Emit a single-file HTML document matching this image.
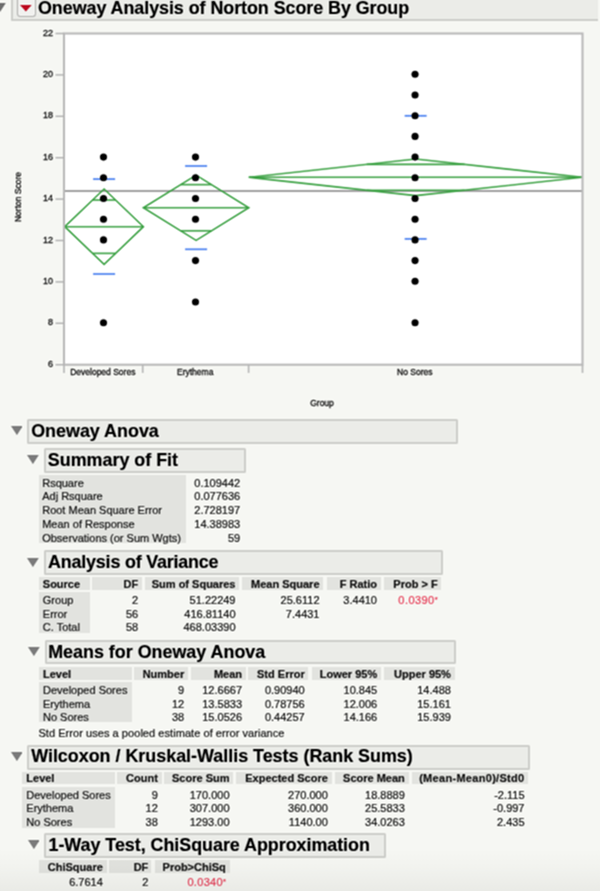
<!DOCTYPE html>
<html><head><meta charset="utf-8"><style>
html,body{margin:0;padding:0;background:#f6f7f3;}
body{width:600px;height:891px;overflow:hidden;position:relative;background:#f6f7f3;font-family:"Liberation Sans",sans-serif;}
.t{position:absolute;white-space:pre;line-height:20px;-webkit-text-stroke:0.2px currentColor;}
#w{position:absolute;left:0;top:0;width:600px;height:891px;overflow:hidden;filter:url(#bf);background:#f6f7f3;}
.b{position:absolute;}
svg text{stroke:#111;stroke-width:0.3px;}
.fade{position:absolute;left:0;top:848px;width:600px;height:43px;background:linear-gradient(to bottom, rgba(60,60,50,0), rgba(60,60,50,0.02) 40%, rgba(60,60,50,0.065));}
</style></head><body><svg width="0" height="0" style="position:absolute"><filter id="bf" x="0" y="0" width="100%" height="100%" color-interpolation-filters="sRGB"><feConvolveMatrix order="5" kernelMatrix="1 -5 -12 -5 1 -5 25 60 25 -5 -12 60 144 60 -12 -5 25 60 25 -5 1 -5 -12 -5 1" edgeMode="duplicate" preserveAlpha="true"/></filter></svg><div id="w">
<svg class="b" style="left:0;top:3px" width="6" height="10"><polygon points="-6,0 5.8,0 -0.1,9.1" fill="#6f6f6f"/></svg>
<div class="b" style="left:11.2px;top:0;width:587.3px;height:20.7px;background:#ebece8;border:2px solid #cdcecA;border-top:none;border-right:none;box-sizing:border-box;border-radius:0 0 0 1.5px;"></div>
<div class="b" style="left:16.5px;top:0;width:19.5px;height:16.5px;background:#f1f1ef;border:1.5px solid #aeaeac;border-top:none;box-sizing:border-box;border-radius:0 0 3.5px 3.5px;"></div>
<svg class="b" style="left:19.6px;top:5px" width="12" height="7"><polygon points="0,0 11.7,0 5.85,6.4" fill="#bd0a20"/></svg>
<div class="t" style="left:37.80px;top:0.6px;line-height:14px;will-change:transform;font-size:17.9px;font-weight:bold;color:#000;letter-spacing:-0.05px;">Oneway Analysis of Norton Score By Group</div>
<svg class="b" style="left:0;top:0" width="600" height="420" font-family="Liberation Sans"><rect x="64" y="33.5" width="518.5" height="331.20000000000005" fill="#fff"/><line x1="64" y1="191.1" x2="582.5" y2="191.1" stroke="#a2a2a2" stroke-width="2"/><polygon points="64.80,226.70 104.10,189.00 143.40,226.70 104.10,264.41" fill="none" stroke="#3da245" stroke-width="1.6" stroke-linejoin="miter"/><line x1="64.80" y1="226.70" x2="143.40" y2="226.70" stroke="#3da245" stroke-width="1.6"/><line x1="92.59" y1="200.04" x2="115.61" y2="200.04" stroke="#3da245" stroke-width="1.6"/><line x1="92.59" y1="253.36" x2="115.61" y2="253.36" stroke="#3da245" stroke-width="1.6"/><line x1="93.10" y1="179.1" x2="115.10" y2="179.1" stroke="#4c82f0" stroke-width="1.7"/><line x1="93.10" y1="274.0" x2="115.10" y2="274.0" stroke="#4c82f0" stroke-width="1.7"/><polygon points="143.40,207.73 196.10,175.07 248.80,207.73 196.10,240.38" fill="none" stroke="#3da245" stroke-width="1.6" stroke-linejoin="miter"/><line x1="143.40" y1="207.73" x2="248.80" y2="207.73" stroke="#3da245" stroke-width="1.6"/><line x1="180.66" y1="184.63" x2="211.54" y2="184.63" stroke="#3da245" stroke-width="1.6"/><line x1="180.66" y1="230.81" x2="211.54" y2="230.81" stroke="#3da245" stroke-width="1.6"/><line x1="185.10" y1="166.0" x2="207.10" y2="166.0" stroke="#4c82f0" stroke-width="1.7"/><line x1="185.10" y1="249.3" x2="207.10" y2="249.3" stroke="#4c82f0" stroke-width="1.7"/><polygon points="248.80,177.31 415.65,158.96 582.50,177.31 415.65,195.66" fill="none" stroke="#3da245" stroke-width="1.6" stroke-linejoin="miter"/><line x1="248.80" y1="177.31" x2="582.50" y2="177.31" stroke="#3da245" stroke-width="1.6"/><line x1="366.78" y1="164.34" x2="464.52" y2="164.34" stroke="#3da245" stroke-width="1.6"/><line x1="366.78" y1="190.29" x2="464.52" y2="190.29" stroke="#3da245" stroke-width="1.6"/><line x1="404.65" y1="115.8" x2="426.65" y2="115.8" stroke="#4c82f0" stroke-width="1.7"/><line x1="404.65" y1="238.9" x2="426.65" y2="238.9" stroke="#4c82f0" stroke-width="1.7"/><circle cx="103.50" cy="157.10" r="3.55" fill="#000"/><circle cx="103.50" cy="177.80" r="3.55" fill="#000"/><circle cx="103.50" cy="198.50" r="3.55" fill="#000"/><circle cx="103.50" cy="219.20" r="3.55" fill="#000"/><circle cx="103.50" cy="239.90" r="3.55" fill="#000"/><circle cx="103.50" cy="322.70" r="3.55" fill="#000"/><circle cx="195.50" cy="157.10" r="3.55" fill="#000"/><circle cx="195.50" cy="177.80" r="3.55" fill="#000"/><circle cx="195.50" cy="198.50" r="3.55" fill="#000"/><circle cx="195.50" cy="219.20" r="3.55" fill="#000"/><circle cx="195.50" cy="260.60" r="3.55" fill="#000"/><circle cx="195.50" cy="302.00" r="3.55" fill="#000"/><circle cx="415.05" cy="74.30" r="3.55" fill="#000"/><circle cx="415.05" cy="95.00" r="3.55" fill="#000"/><circle cx="415.05" cy="115.70" r="3.55" fill="#000"/><circle cx="415.05" cy="136.40" r="3.55" fill="#000"/><circle cx="415.05" cy="157.10" r="3.55" fill="#000"/><circle cx="415.05" cy="177.80" r="3.55" fill="#000"/><circle cx="415.05" cy="198.50" r="3.55" fill="#000"/><circle cx="415.05" cy="219.20" r="3.55" fill="#000"/><circle cx="415.05" cy="239.90" r="3.55" fill="#000"/><circle cx="415.05" cy="260.60" r="3.55" fill="#000"/><circle cx="415.05" cy="281.30" r="3.55" fill="#000"/><circle cx="415.05" cy="322.70" r="3.55" fill="#000"/><rect x="64" y="33.5" width="518.5" height="331.20000000000005" fill="none" stroke="#bababa" stroke-width="2.1"/><line x1="55.5" y1="364.70" x2="64" y2="364.70" stroke="#b0b0b0" stroke-width="1.4"/><text x="52.9" y="366.80" text-anchor="end" font-size="9" fill="#111">6</text><line x1="55.5" y1="323.30" x2="64" y2="323.30" stroke="#b0b0b0" stroke-width="1.4"/><text x="52.9" y="325.40" text-anchor="end" font-size="9" fill="#111">8</text><line x1="55.5" y1="281.90" x2="64" y2="281.90" stroke="#b0b0b0" stroke-width="1.4"/><text x="52.9" y="284.00" text-anchor="end" font-size="9" fill="#111">10</text><line x1="55.5" y1="240.50" x2="64" y2="240.50" stroke="#b0b0b0" stroke-width="1.4"/><text x="52.9" y="242.60" text-anchor="end" font-size="9" fill="#111">12</text><line x1="55.5" y1="199.10" x2="64" y2="199.10" stroke="#b0b0b0" stroke-width="1.4"/><text x="52.9" y="201.20" text-anchor="end" font-size="9" fill="#111">14</text><line x1="55.5" y1="157.70" x2="64" y2="157.70" stroke="#b0b0b0" stroke-width="1.4"/><text x="52.9" y="159.80" text-anchor="end" font-size="9" fill="#111">16</text><line x1="55.5" y1="116.30" x2="64" y2="116.30" stroke="#b0b0b0" stroke-width="1.4"/><text x="52.9" y="118.40" text-anchor="end" font-size="9" fill="#111">18</text><line x1="55.5" y1="74.90" x2="64" y2="74.90" stroke="#b0b0b0" stroke-width="1.4"/><text x="52.9" y="77.00" text-anchor="end" font-size="9" fill="#111">20</text><line x1="55.5" y1="33.50" x2="64" y2="33.50" stroke="#b0b0b0" stroke-width="1.4"/><text x="52.9" y="35.60" text-anchor="end" font-size="9" fill="#111">22</text><line x1="64" y1="364.70000000000005" x2="64" y2="372.9" stroke="#b6b6b6" stroke-width="1.6"/><line x1="142.7" y1="364.70000000000005" x2="142.7" y2="372.9" stroke="#b6b6b6" stroke-width="1.6"/><line x1="248.6" y1="364.70000000000005" x2="248.6" y2="372.9" stroke="#b6b6b6" stroke-width="1.6"/><line x1="582.5" y1="364.70000000000005" x2="582.5" y2="372.9" stroke="#b6b6b6" stroke-width="1.6"/><text x="102.80" y="374.9" text-anchor="middle" font-size="8.5" fill="#111">Developed Sores</text><text x="195.20" y="374.9" text-anchor="middle" font-size="8.5" fill="#111">Erythema</text><text x="414.75" y="374.9" text-anchor="middle" font-size="8.5" fill="#111">No Sores</text><text x="322" y="406.2" text-anchor="middle" font-size="8.5" fill="#111">Group</text><text transform="translate(21.3,197) rotate(-90)" text-anchor="middle" font-size="8.5" fill="#111">Norton Score</text></svg>
<svg class="b" style="left:10.599999999999998px;top:426.4px" width="11.8" height="9.100000000000023"><polygon points="0,0 11.8,0 5.9,9.100000000000023" fill="#7b7b7b"/></svg>
<div class="b" style="left:27.20px;top:419.00px;width:430.60px;height:25.30px;background:#ebece8;border:2px solid #cdcecA;box-sizing:border-box;border-radius:1.5px;"></div>
<div class="t" style="left:31.20px;top:421.20px;font-size:17.9px;font-weight:bold;color:#000;letter-spacing:0px;">Oneway Anova</div>
<svg class="b" style="left:27.4px;top:455.4px" width="11.800000000000004" height="9.100000000000023"><polygon points="0,0 11.800000000000004,0 5.900000000000002,9.100000000000023" fill="#7b7b7b"/></svg>
<div class="b" style="left:44.00px;top:448.00px;width:201.50px;height:25.00px;background:#ebece8;border:2px solid #cdcecA;box-sizing:border-box;border-radius:1.5px;"></div>
<div class="t" style="left:47.80px;top:450.20px;font-size:17.9px;font-weight:bold;color:#000;letter-spacing:0px;">Summary of Fit</div>
<div class="b" style="left:38.50px;top:474.50px;width:147.50px;height:68.70px;background:#e2e3df;"></div>
<div class="t" style="left:42.20px;top:472.50px;font-size:11px;font-weight:normal;color:#111;">Rsquare</div>
<div class="t" style="right:359.80px;top:472.50px;font-size:11px;font-weight:normal;color:#111;text-align:right;">0.109442</div>
<div class="t" style="left:42.20px;top:486.25px;font-size:11px;font-weight:normal;color:#111;">Adj Rsquare</div>
<div class="t" style="right:359.80px;top:486.25px;font-size:11px;font-weight:normal;color:#111;text-align:right;">0.077636</div>
<div class="t" style="left:42.20px;top:500.00px;font-size:11px;font-weight:normal;color:#111;">Root Mean Square Error</div>
<div class="t" style="right:359.80px;top:500.00px;font-size:11px;font-weight:normal;color:#111;text-align:right;">2.728197</div>
<div class="t" style="left:42.20px;top:513.75px;font-size:11px;font-weight:normal;color:#111;">Mean of Response</div>
<div class="t" style="right:359.80px;top:513.75px;font-size:11px;font-weight:normal;color:#111;text-align:right;">14.38983</div>
<div class="t" style="left:42.20px;top:527.50px;font-size:11px;font-weight:normal;color:#111;">Observations (or Sum Wgts)</div>
<div class="t" style="right:359.80px;top:527.50px;font-size:11px;font-weight:normal;color:#111;text-align:right;">59</div>
<svg class="b" style="left:27.299999999999997px;top:557.6px" width="11.800000000000004" height="9.100000000000023"><polygon points="0,0 11.800000000000004,0 5.900000000000002,9.100000000000023" fill="#7b7b7b"/></svg>
<div class="b" style="left:43.90px;top:550.20px;width:398.90px;height:24.60px;background:#ebece8;border:2px solid #cdcecA;box-sizing:border-box;border-radius:1.5px;"></div>
<div class="t" style="left:48.10px;top:552.00px;font-size:17.9px;font-weight:bold;color:#000;letter-spacing:-0.19px;">Analysis of Variance</div>
<div class="b" style="left:38.50px;top:577.00px;width:51.00px;height:13.00px;background:#e2e3df;"></div>
<div class="t" style="left:42.80px;top:573.60px;font-size:11px;font-weight:bold;color:#111;">Source</div>
<div class="b" style="left:91.50px;top:577.00px;width:50.50px;height:13.00px;background:#e2e3df;"></div>
<div class="t" style="right:461.80px;top:573.60px;font-size:11px;font-weight:bold;color:#111;text-align:right;">DF</div>
<div class="b" style="left:144.50px;top:577.00px;width:94.80px;height:13.00px;background:#e2e3df;"></div>
<div class="t" style="right:364.50px;top:573.60px;font-size:11px;font-weight:bold;color:#111;text-align:right;">Sum of Squares</div>
<div class="b" style="left:241.80px;top:577.00px;width:81.50px;height:13.00px;background:#e2e3df;"></div>
<div class="t" style="right:280.50px;top:573.60px;font-size:11px;font-weight:bold;color:#111;text-align:right;">Mean Square</div>
<div class="b" style="left:326.50px;top:577.00px;width:54.30px;height:13.00px;background:#e2e3df;"></div>
<div class="t" style="right:223.00px;top:573.60px;font-size:11px;font-weight:bold;color:#111;text-align:right;">F Ratio</div>
<div class="b" style="left:383.50px;top:577.00px;width:57.90px;height:13.00px;background:#e2e3df;"></div>
<div class="t" style="right:162.40px;top:573.60px;font-size:11px;font-weight:bold;color:#111;text-align:right;">Prob &gt; F</div>
<div class="b" style="left:38.50px;top:592.00px;width:51.00px;height:40.50px;background:#e2e3df;"></div>
<div class="t" style="left:42.80px;top:590.20px;font-size:11px;font-weight:normal;color:#111;">Group</div>
<div class="t" style="right:461.80px;top:590.20px;font-size:11px;font-weight:normal;color:#111;text-align:right;">2</div>
<div class="t" style="right:364.50px;top:590.20px;font-size:11px;font-weight:normal;color:#111;text-align:right;">51.22249</div>
<div class="t" style="right:280.50px;top:590.20px;font-size:11px;font-weight:normal;color:#111;text-align:right;">25.6112</div>
<div class="t" style="right:223.00px;top:590.20px;font-size:11px;font-weight:normal;color:#111;text-align:right;">3.4410</div>
<div class="t" style="right:162.40px;top:590.20px;font-size:11px;font-weight:normal;color:#e63a55;text-align:right;"><span style="letter-spacing:0.45px">0.0390</span><span style="font-size:7.5px;position:relative;top:-2.2px">*</span></div>
<div class="t" style="left:42.80px;top:603.70px;font-size:11px;font-weight:normal;color:#111;">Error</div>
<div class="t" style="right:461.80px;top:603.70px;font-size:11px;font-weight:normal;color:#111;text-align:right;">56</div>
<div class="t" style="right:364.50px;top:603.70px;font-size:11px;font-weight:normal;color:#111;text-align:right;">416.81140</div>
<div class="t" style="right:280.50px;top:603.70px;font-size:11px;font-weight:normal;color:#111;text-align:right;">7.4431</div>
<div class="t" style="left:42.80px;top:617.20px;font-size:11px;font-weight:normal;color:#111;">C. Total</div>
<div class="t" style="right:461.80px;top:617.20px;font-size:11px;font-weight:normal;color:#111;text-align:right;">58</div>
<div class="t" style="right:364.50px;top:617.20px;font-size:11px;font-weight:normal;color:#111;text-align:right;">468.03390</div>
<svg class="b" style="left:27.9px;top:647.4px" width="11.800000000000004" height="9.100000000000023"><polygon points="0,0 11.800000000000004,0 5.900000000000002,9.100000000000023" fill="#7b7b7b"/></svg>
<div class="b" style="left:44.50px;top:640.00px;width:411.50px;height:24.00px;background:#ebece8;border:2px solid #cdcecA;box-sizing:border-box;border-radius:1.5px;"></div>
<div class="t" style="left:48.20px;top:641.60px;font-size:17.9px;font-weight:bold;color:#000;letter-spacing:0px;">Means for Oneway Anova</div>
<div class="b" style="left:38.70px;top:667.00px;width:93.30px;height:12.60px;background:#e2e3df;"></div>
<div class="t" style="left:43.00px;top:663.80px;font-size:11px;font-weight:bold;color:#111;">Level</div>
<div class="b" style="left:134.00px;top:667.00px;width:54.00px;height:12.60px;background:#e2e3df;"></div>
<div class="t" style="right:415.80px;top:663.80px;font-size:11px;font-weight:bold;color:#111;text-align:right;">Number</div>
<div class="b" style="left:191.00px;top:667.00px;width:54.80px;height:12.60px;background:#e2e3df;"></div>
<div class="t" style="right:358.00px;top:663.80px;font-size:11px;font-weight:bold;color:#111;text-align:right;">Mean</div>
<div class="b" style="left:248.40px;top:667.00px;width:60.10px;height:12.60px;background:#e2e3df;"></div>
<div class="t" style="right:295.30px;top:663.80px;font-size:11px;font-weight:bold;color:#111;text-align:right;">Std Error</div>
<div class="b" style="left:312.00px;top:667.00px;width:69.00px;height:12.60px;background:#e2e3df;"></div>
<div class="t" style="right:222.80px;top:663.80px;font-size:11px;font-weight:bold;color:#111;text-align:right;">Lower 95%</div>
<div class="b" style="left:383.70px;top:667.00px;width:71.00px;height:12.60px;background:#e2e3df;"></div>
<div class="t" style="right:149.10px;top:663.80px;font-size:11px;font-weight:bold;color:#111;text-align:right;">Upper 95%</div>
<div class="b" style="left:38.70px;top:682.00px;width:93.30px;height:40.30px;background:#e2e3df;"></div>
<div class="t" style="left:43.00px;top:680.20px;font-size:11px;font-weight:normal;color:#111;">Developed Sores</div>
<div class="t" style="right:415.80px;top:680.20px;font-size:11px;font-weight:normal;color:#111;text-align:right;">9</div>
<div class="t" style="right:358.00px;top:680.20px;font-size:11px;font-weight:normal;color:#111;text-align:right;">12.6667</div>
<div class="t" style="right:295.30px;top:680.20px;font-size:11px;font-weight:normal;color:#111;text-align:right;">0.90940</div>
<div class="t" style="right:222.80px;top:680.20px;font-size:11px;font-weight:normal;color:#111;text-align:right;">10.845</div>
<div class="t" style="right:149.10px;top:680.20px;font-size:11px;font-weight:normal;color:#111;text-align:right;">14.488</div>
<div class="t" style="left:43.00px;top:693.70px;font-size:11px;font-weight:normal;color:#111;">Erythema</div>
<div class="t" style="right:415.80px;top:693.70px;font-size:11px;font-weight:normal;color:#111;text-align:right;">12</div>
<div class="t" style="right:358.00px;top:693.70px;font-size:11px;font-weight:normal;color:#111;text-align:right;">13.5833</div>
<div class="t" style="right:295.30px;top:693.70px;font-size:11px;font-weight:normal;color:#111;text-align:right;">0.78756</div>
<div class="t" style="right:222.80px;top:693.70px;font-size:11px;font-weight:normal;color:#111;text-align:right;">12.006</div>
<div class="t" style="right:149.10px;top:693.70px;font-size:11px;font-weight:normal;color:#111;text-align:right;">15.161</div>
<div class="t" style="left:43.00px;top:707.20px;font-size:11px;font-weight:normal;color:#111;">No Sores</div>
<div class="t" style="right:415.80px;top:707.20px;font-size:11px;font-weight:normal;color:#111;text-align:right;">38</div>
<div class="t" style="right:358.00px;top:707.20px;font-size:11px;font-weight:normal;color:#111;text-align:right;">15.0526</div>
<div class="t" style="right:295.30px;top:707.20px;font-size:11px;font-weight:normal;color:#111;text-align:right;">0.44257</div>
<div class="t" style="right:222.80px;top:707.20px;font-size:11px;font-weight:normal;color:#111;text-align:right;">14.166</div>
<div class="t" style="right:149.10px;top:707.20px;font-size:11px;font-weight:normal;color:#111;text-align:right;">15.939</div>
<div class="t" style="left:38.40px;top:722.50px;font-size:11px;font-weight:normal;color:#111;letter-spacing:0.055px;">Std Error uses a pooled estimate of error variance</div>
<svg class="b" style="left:10.5px;top:752.1px" width="11.8" height="9.100000000000023"><polygon points="0,0 11.8,0 5.9,9.100000000000023" fill="#7b7b7b"/></svg>
<div class="b" style="left:27.10px;top:744.70px;width:502.90px;height:25.10px;background:#ebece8;border:2px solid #cdcecA;box-sizing:border-box;border-radius:1.5px;"></div>
<div class="t" style="left:31.20px;top:746.20px;font-size:17.9px;font-weight:bold;color:#000;letter-spacing:0px;">Wilcoxon / Kruskal-Wallis Tests (Rank Sums)</div>
<div class="b" style="left:22.00px;top:771.80px;width:92.60px;height:12.20px;background:#e2e3df;"></div>
<div class="t" style="left:26.30px;top:768.00px;font-size:11px;font-weight:bold;color:#111;">Level</div>
<div class="b" style="left:116.80px;top:771.80px;width:44.80px;height:12.20px;background:#e2e3df;"></div>
<div class="t" style="right:442.20px;top:768.00px;font-size:11px;font-weight:bold;color:#111;text-align:right;">Count</div>
<div class="b" style="left:164.30px;top:771.80px;width:69.00px;height:12.20px;background:#e2e3df;"></div>
<div class="t" style="right:370.50px;top:768.00px;font-size:11px;font-weight:bold;color:#111;text-align:right;">Score Sum</div>
<div class="b" style="left:236.00px;top:771.80px;width:95.60px;height:12.20px;background:#e2e3df;"></div>
<div class="t" style="right:272.20px;top:768.00px;font-size:11px;font-weight:bold;color:#111;text-align:right;">Expected Score</div>
<div class="b" style="left:335.00px;top:771.80px;width:73.60px;height:12.20px;background:#e2e3df;"></div>
<div class="t" style="right:195.20px;top:768.00px;font-size:11px;font-weight:bold;color:#111;text-align:right;">Score Mean</div>
<div class="b" style="left:411.50px;top:771.80px;width:116.80px;height:12.20px;background:#e2e3df;"></div>
<div class="t" style="right:75.50px;top:768.00px;font-size:11px;font-weight:bold;color:#111;text-align:right;letter-spacing:0.3px;">(Mean-Mean0)/Std0</div>
<div class="b" style="left:22.00px;top:786.50px;width:92.60px;height:41.10px;background:#e2e3df;"></div>
<div class="t" style="left:26.30px;top:784.70px;font-size:11px;font-weight:normal;color:#111;">Developed Sores</div>
<div class="t" style="right:442.20px;top:784.70px;font-size:11px;font-weight:normal;color:#111;text-align:right;">9</div>
<div class="t" style="right:370.50px;top:784.70px;font-size:11px;font-weight:normal;color:#111;text-align:right;">170.000</div>
<div class="t" style="right:272.20px;top:784.70px;font-size:11px;font-weight:normal;color:#111;text-align:right;">270.000</div>
<div class="t" style="right:195.20px;top:784.70px;font-size:11px;font-weight:normal;color:#111;text-align:right;">18.8889</div>
<div class="t" style="right:75.50px;top:784.70px;font-size:11px;font-weight:normal;color:#111;text-align:right;">-2.115</div>
<div class="t" style="left:26.30px;top:798.30px;font-size:11px;font-weight:normal;color:#111;">Erythema</div>
<div class="t" style="right:442.20px;top:798.30px;font-size:11px;font-weight:normal;color:#111;text-align:right;">12</div>
<div class="t" style="right:370.50px;top:798.30px;font-size:11px;font-weight:normal;color:#111;text-align:right;">307.000</div>
<div class="t" style="right:272.20px;top:798.30px;font-size:11px;font-weight:normal;color:#111;text-align:right;">360.000</div>
<div class="t" style="right:195.20px;top:798.30px;font-size:11px;font-weight:normal;color:#111;text-align:right;">25.5833</div>
<div class="t" style="right:75.50px;top:798.30px;font-size:11px;font-weight:normal;color:#111;text-align:right;">-0.997</div>
<div class="t" style="left:26.30px;top:811.90px;font-size:11px;font-weight:normal;color:#111;">No Sores</div>
<div class="t" style="right:442.20px;top:811.90px;font-size:11px;font-weight:normal;color:#111;text-align:right;">38</div>
<div class="t" style="right:370.50px;top:811.90px;font-size:11px;font-weight:normal;color:#111;text-align:right;">1293.00</div>
<div class="t" style="right:272.20px;top:811.90px;font-size:11px;font-weight:normal;color:#111;text-align:right;">1140.00</div>
<div class="t" style="right:195.20px;top:811.90px;font-size:11px;font-weight:normal;color:#111;text-align:right;">34.0263</div>
<div class="t" style="right:75.50px;top:811.90px;font-size:11px;font-weight:normal;color:#111;text-align:right;">2.435</div>
<svg class="b" style="left:27.6px;top:840.3px" width="11.800000000000004" height="9.100000000000023"><polygon points="0,0 11.800000000000004,0 5.900000000000002,9.100000000000023" fill="#7b7b7b"/></svg>
<div class="b" style="left:44.20px;top:832.90px;width:342.10px;height:24.90px;background:#ebece8;border:2px solid #cdcecA;box-sizing:border-box;border-radius:1.5px;"></div>
<div class="t" style="left:48.50px;top:835.20px;font-size:17.9px;font-weight:bold;color:#000;letter-spacing:-0.03px;">1-Way Test, ChiSquare Approximation</div>
<div class="b" style="left:38.70px;top:860.40px;width:67.90px;height:12.40px;background:#e2e3df;"></div>
<div class="t" style="right:497.20px;top:856.70px;font-size:11px;font-weight:bold;color:#111;text-align:right;">ChiSquare</div>
<div class="b" style="left:109.30px;top:860.40px;width:41.60px;height:12.40px;background:#e2e3df;"></div>
<div class="t" style="right:451.70px;top:856.70px;font-size:11px;font-weight:bold;color:#111;text-align:right;">DF</div>
<div class="b" style="left:154.80px;top:860.40px;width:74.80px;height:12.40px;background:#e2e3df;"></div>
<div class="t" style="right:374.20px;top:856.70px;font-size:11px;font-weight:bold;color:#111;text-align:right;">Prob&gt;ChiSq</div>
<div class="t" style="right:497.20px;top:871.80px;font-size:11px;font-weight:normal;color:#111;text-align:right;">6.7614</div>
<div class="t" style="right:451.70px;top:871.80px;font-size:11px;font-weight:normal;color:#111;text-align:right;">2</div>
<div class="t" style="right:374.20px;top:871.80px;font-size:11px;font-weight:normal;color:#e63a55;text-align:right;"><span style="letter-spacing:0.3px">0.0340</span><span style="font-size:7.5px;position:relative;top:-2.2px">*</span></div>
<div class="fade"></div>
</div></body></html>
